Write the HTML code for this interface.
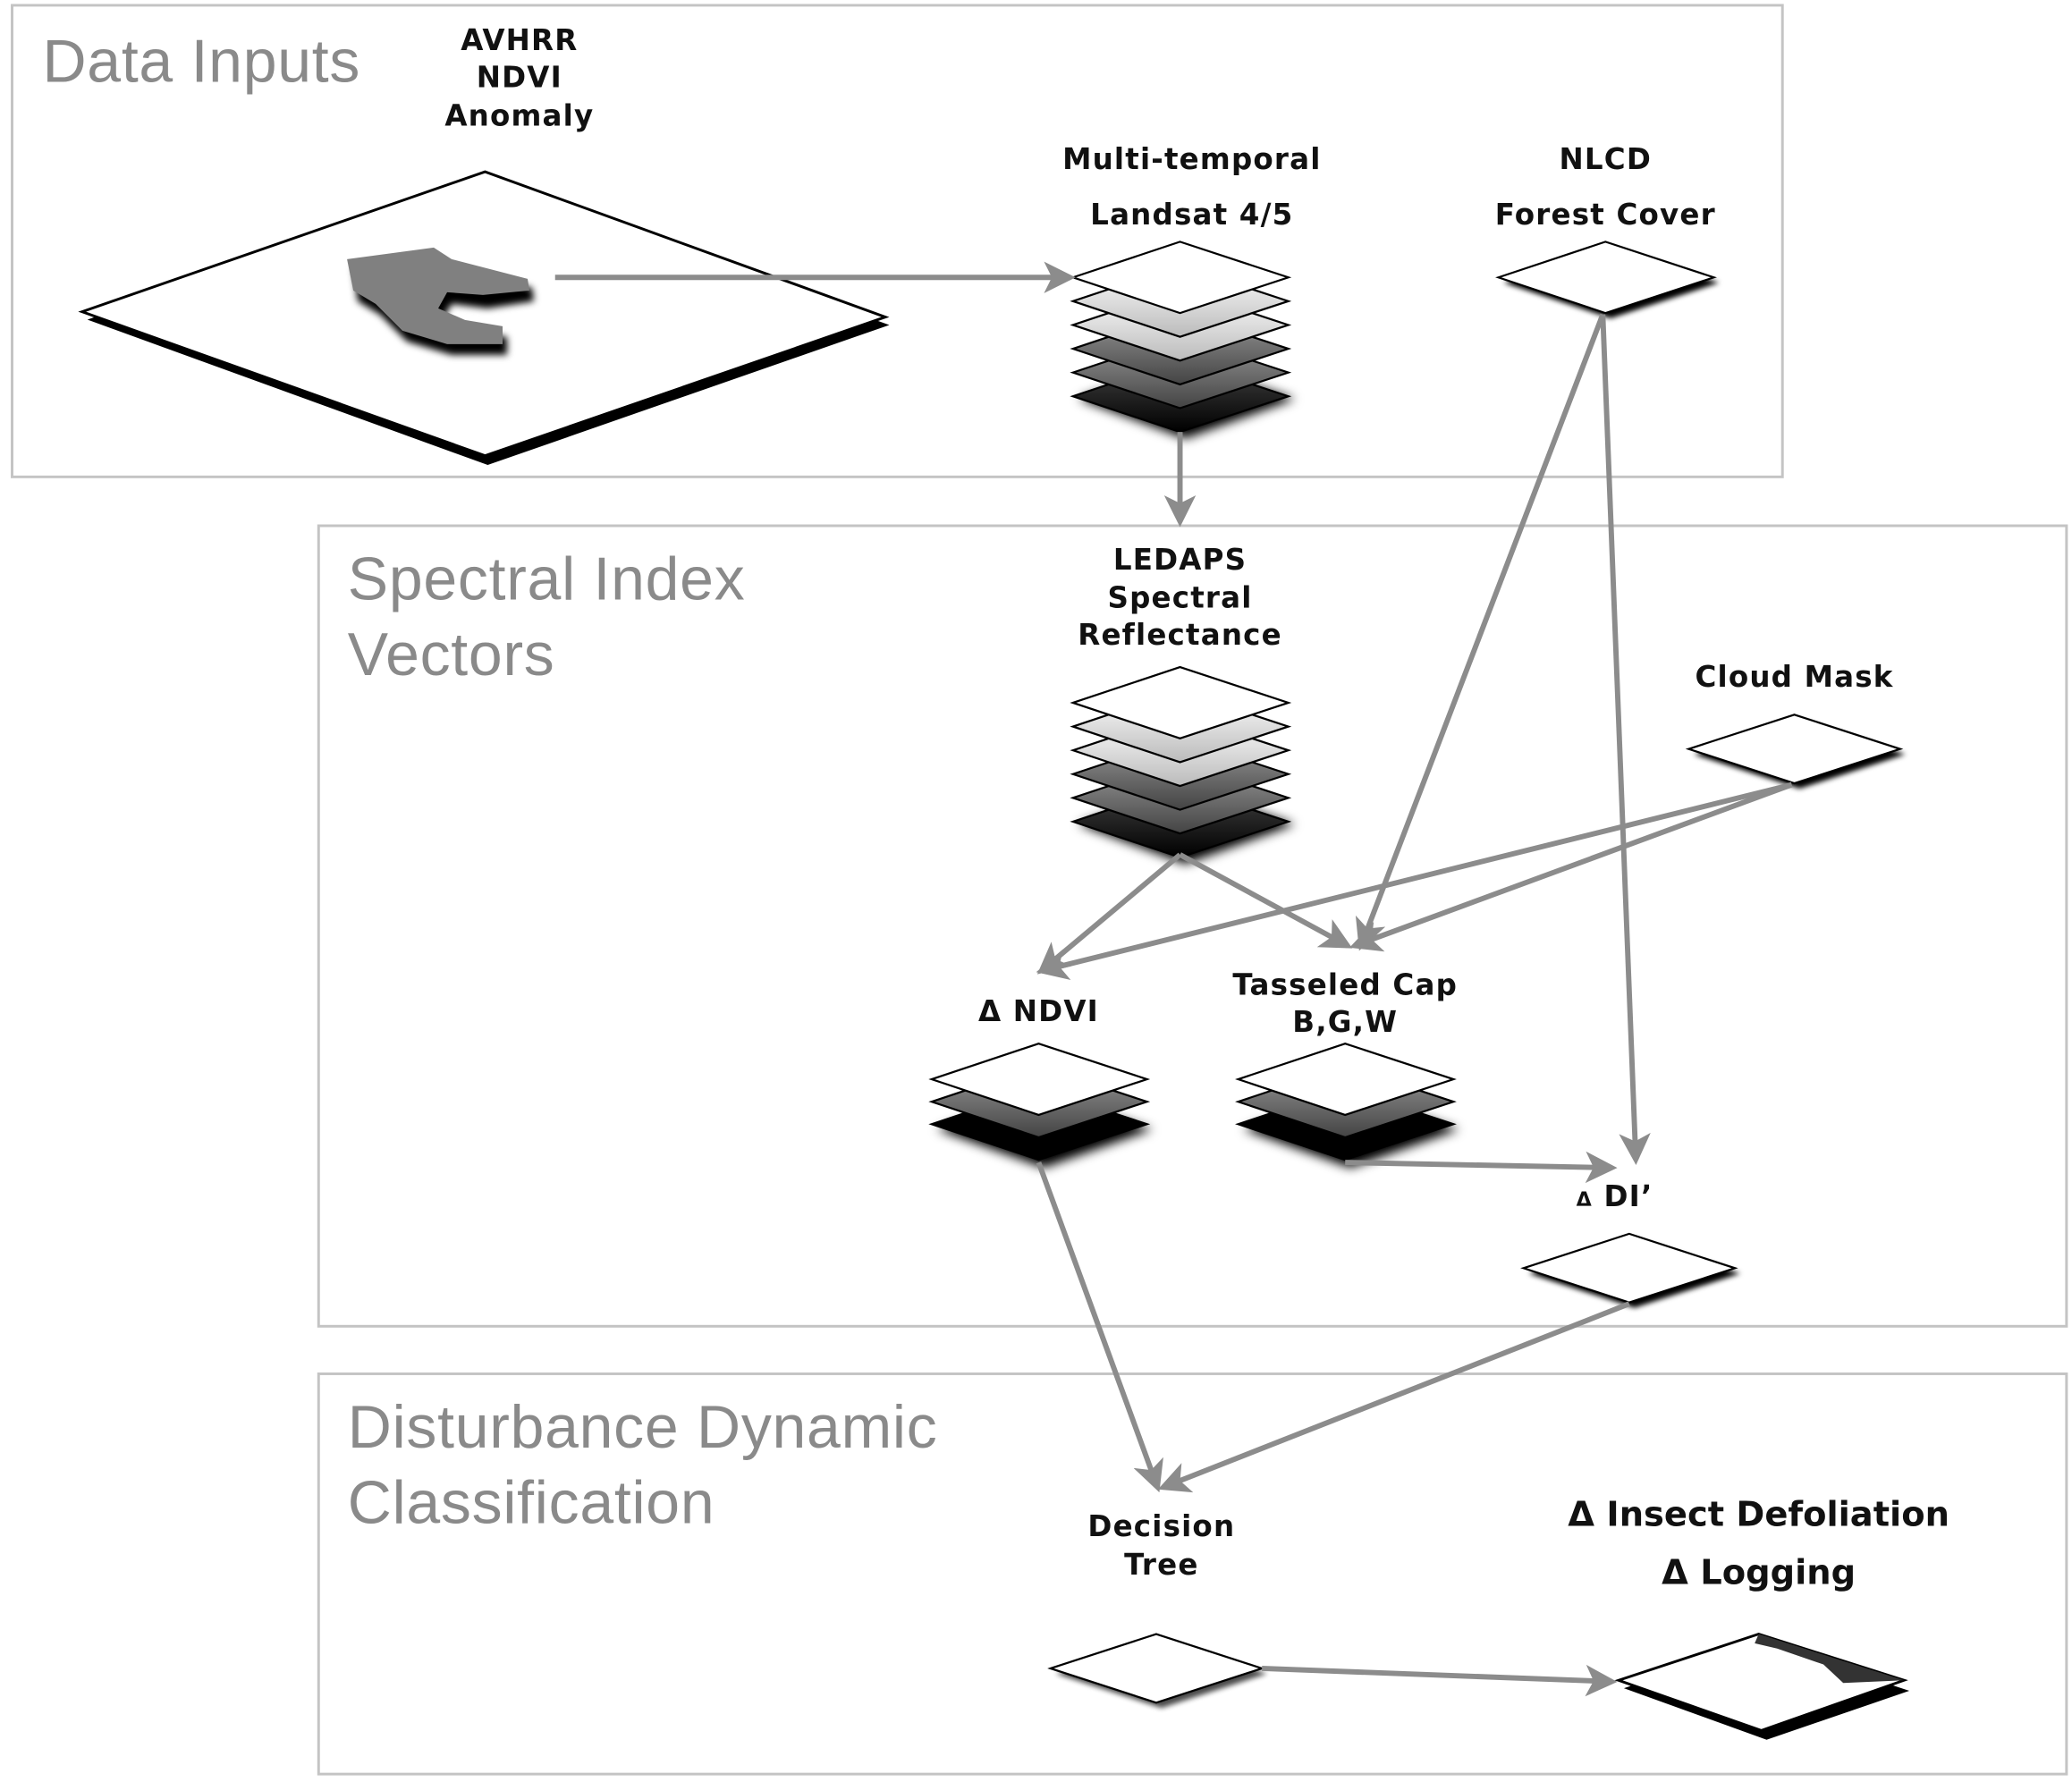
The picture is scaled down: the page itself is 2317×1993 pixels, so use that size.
<!DOCTYPE html>
<html><head><meta charset="utf-8"><style>
html,body{margin:0;padding:0;background:#fff;}
svg{display:block;}
.t{font-family:"DejaVu Sans","Liberation Sans",sans-serif;font-weight:bold;fill:#111;text-anchor:middle;font-size:22px;letter-spacing:0.8px;}
.h{font-family:"Liberation Sans","DejaVu Sans",sans-serif;fill:#8a8a8a;font-size:46px;letter-spacing:0.5px;}
.c{stroke:#8c8c8c;stroke-width:4;fill:none;}
</style></head><body>
<svg width="2317" height="1993" viewBox="0 0 1568 1349" xmlns="http://www.w3.org/2000/svg">
<defs>
<filter id="bl" x="-30%" y="-30%" width="160%" height="180%"><feGaussianBlur stdDeviation="4"/></filter>
<filter id="bl2" x="-30%" y="-30%" width="160%" height="180%"><feGaussianBlur stdDeviation="2"/></filter>
<linearGradient id="g1" x1="0" y1="0" x2="0" y2="1"><stop offset="0" stop-color="#fff"/><stop offset="1" stop-color="#bbb"/></linearGradient>
<linearGradient id="g2" x1="0" y1="0" x2="0" y2="1"><stop offset="0" stop-color="#999"/><stop offset="1" stop-color="#444"/></linearGradient>
<linearGradient id="g3" x1="0" y1="0" x2="0" y2="1"><stop offset="0" stop-color="#444"/><stop offset="1" stop-color="#000"/></linearGradient>
<marker id="ar" markerWidth="6" markerHeight="6" refX="5" refY="3" orient="auto" markerUnits="strokeWidth"><path d="M0,0 L6,3 L0,6 L1.5,3 z" fill="#8c8c8c"/></marker>
</defs>

<rect x="9" y="4" width="1340" height="357" fill="none" stroke="#c4c4c4" stroke-width="2"/>
<rect x="241" y="398" width="1323" height="606" fill="none" stroke="#c4c4c4" stroke-width="2"/>
<rect x="241" y="1040" width="1323" height="303" fill="none" stroke="#c4c4c4" stroke-width="2"/>
<text class="h" x="32" y="62">Data Inputs</text>
<text class="h" x="263" y="454">Spectral Index</text>
<text class="h" x="263" y="511">Vectors</text>
<text class="h" x="263" y="1096">Disturbance Dynamic</text>
<text class="h" x="263" y="1153">Classification</text>

<polygon points="66,242 367,136 673,246 369,352" fill="#000"/>
<polygon points="62,236 367,130 670,240 367,345" fill="#fff" stroke="#000" stroke-width="2"/>
<g transform="scale(0.6766)">
<polygon points="395,300 490,290 510,302 595,322 597,337 545,345 505,340 495,357 525,370 567,377 567,397 505,397 455,382 425,352 400,337" fill="#000" filter="url(#bl)"/>
<polygon points="388,290 485,277 505,290 590,312 592,325 540,330 500,327 490,345 520,358 562,365 562,385 500,385 450,370 420,340 395,325" fill="#808080"/>
</g>
<text class="t" x="393" y="38">AVHRR</text>
<text class="t" x="393" y="66">NDVI</text>
<text class="t" x="393" y="95">Anomaly</text>

<g id="stk">
<polygon points="816,302 897,274 980,302 897,332" fill="#000" filter="url(#bl)"/>
<polygon points="812,300 893,273 975,300 893,327" fill="url(#g3)" stroke="#000" stroke-width="1.5"/>
<polygon points="812,282 893,255 975,282 893,309" fill="url(#g2)" stroke="#000" stroke-width="1.5"/>
<polygon points="812,264 893,237 975,264 893,291" fill="url(#g2)" stroke="#000" stroke-width="1.5"/>
<polygon points="812,246 893,219 975,246 893,273" fill="url(#g1)" stroke="#000" stroke-width="1.5"/>
<polygon points="812,228 893,201 975,228 893,255" fill="url(#g1)" stroke="#000" stroke-width="1.5"/>
<polygon points="812,210 893,183 975,210 893,237" fill="#fff" stroke="#000" stroke-width="1.5"/>
</g>
<text class="t" x="902" y="128">Multi-temporal</text>
<text class="t" x="902" y="170">Landsat 4/5</text>

<use href="#stk" transform="translate(0,322)"/>
<text class="t" x="893" y="431">LEDAPS</text>
<text class="t" x="893" y="460">Spectral</text>
<text class="t" x="893" y="488">Reflectance</text>

<polygon points="1138,214 1219,187 1301,214 1219,241" fill="#000" filter="url(#bl2)"/>
<polygon points="1134,210 1215,183 1297,210 1215,237" fill="#fff" stroke="#000" stroke-width="1.5"/>
<text class="t" x="1215" y="128">NLCD</text>
<text class="t" x="1215" y="170">Forest Cover</text>

<polygon points="1282,571 1362,545 1442,571 1362,597" fill="#000" filter="url(#bl2)"/>
<polygon points="1278,567 1358,541 1438,567 1358,593" fill="#fff" stroke="#000" stroke-width="1.5"/>
<text class="t" x="1358" y="520">Cloud Mask</text>

<g id="s3">
<polygon points="709,855 790,828 872,855 790,884" fill="#000" filter="url(#bl)"/>
<polygon points="705,851 786,824 868,851 786,878" fill="#000" stroke="#000" stroke-width="1.5"/>
<polygon points="705,834 786,807 868,834 786,861" fill="url(#g2)" stroke="#000" stroke-width="1.5"/>
<polygon points="705,817 786,790 868,817 786,844" fill="#fff" stroke="#000" stroke-width="1.5"/>
</g>
<text class="t" x="786" y="773">Δ NDVI</text>
<use href="#s3" transform="translate(232,0)"/>
<text class="t" x="1018" y="753">Tasseled Cap</text>
<text class="t" x="1018" y="781">B,G,W</text>

<polygon points="1157,964 1237,938 1317,964 1237,990" fill="#000" filter="url(#bl2)"/>
<polygon points="1153,960 1233,934 1313,960 1233,986" fill="#fff" stroke="#000" stroke-width="1.5"/>
<text class="t" x="1222" y="913"><tspan style="font-size:15px">Δ</tspan> DI’</text>

<polygon points="799,1267 879,1241 959,1267 879,1293" fill="#000" filter="url(#bl2)" opacity="0.7"/>
<polygon points="795,1263 875,1237 955,1263 875,1289" fill="#fff" stroke="#000" stroke-width="1.5"/>
<text class="t" x="879" y="1163">Decision</text>
<text class="t" x="879" y="1192">Tree</text>

<polygon points="1229,1278 1333,1243 1445,1280 1337,1317" fill="#000"/>
<polygon points="1225,1272 1331,1237 1441,1272 1333,1310" fill="#fff" stroke="#000" stroke-width="2"/>
<polygon points="1331,1237 1441,1272 1395,1274 1380,1260 1345,1248 1328,1244" fill="#333"/>
<text class="t" x="1331" y="1155" style="font-size:26px;letter-spacing:0px">Δ Insect Defoliation</text>
<text class="t" x="1331" y="1199" style="font-size:26px;letter-spacing:0px">Δ Logging</text>

<line class="c" x1="420" y1="210" x2="810" y2="210" marker-end="url(#ar)"/>
<line class="c" x1="893" y1="327" x2="893" y2="395" marker-end="url(#ar)"/>
<line class="c" x1="1213" y1="238" x2="1030" y2="716" marker-end="url(#ar)"/>
<line class="c" x1="1213" y1="238" x2="1238" y2="878" marker-end="url(#ar)"/>
<line class="c" x1="1356" y1="594" x2="1025" y2="716" marker-end="url(#ar)"/>
<line class="c" x1="1356" y1="594" x2="788" y2="735" marker-end="url(#ar)"/>
<line class="c" x1="893" y1="647" x2="788" y2="735" marker-end="url(#ar)"/>
<line class="c" x1="893" y1="647" x2="1020" y2="716" marker-end="url(#ar)"/>
<line class="c" x1="1018" y1="880" x2="1220" y2="884" marker-end="url(#ar)"/>
<line class="c" x1="786" y1="880" x2="876" y2="1126" marker-end="url(#ar)"/>
<line class="c" x1="1233" y1="987" x2="880" y2="1126" marker-end="url(#ar)"/>
<line class="c" x1="955" y1="1263" x2="1220" y2="1273" marker-end="url(#ar)"/>
</svg>
</body></html>
